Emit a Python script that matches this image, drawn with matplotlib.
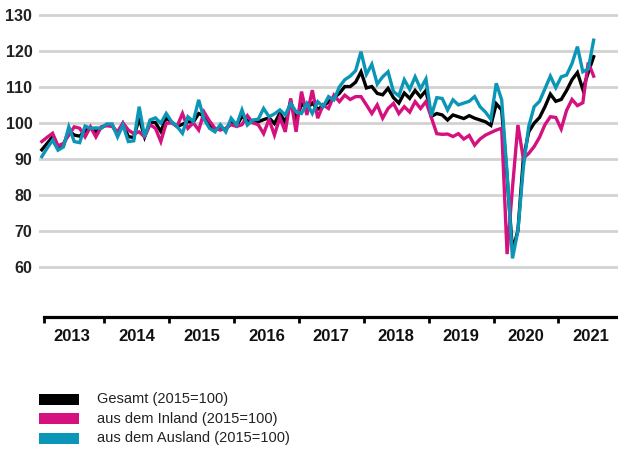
import numpy as np
import matplotlib
matplotlib.use("Agg")
import matplotlib.pyplot as plt
from matplotlib.patches import Rectangle

# monthly index values (2015=100), Jan 2013 - Jul 2021
gesamt = [
    92.5, 94.3, 96.1, 92.9, 93.7, 97.9, 96.6, 96.3, 97.7, 98.7, 97.5, 98.7,
    99.5, 99.4, 96.7, 99.7, 96.2, 95.9, 101.3, 96.1, 100.2, 100.1, 97.6, 101.4,
    100.2, 99.0, 99.6, 100.3, 100.2, 102.6, 101.9, 99.4, 98.0, 98.8, 98.0, 100.5,
    99.2, 101.8, 100.6, 100.4, 100.3, 100.9, 101.4, 99.8, 102.7, 100.1, 106.0, 100.6,
    105.3, 104.0, 105.5, 103.8, 104.7, 105.8, 107.0, 108.2, 110.1, 110.1, 111.3, 114.2,
    109.7, 110.1, 108.2, 107.8, 109.6, 107.0, 105.5, 108.3, 106.8, 109.0, 107.2, 109.0,
    101.8, 102.6, 102.2, 100.8, 102.2, 101.7, 101.2, 102.0, 101.3, 100.8, 100.3, 99.3,
    105.3, 103.6, 85.0, 64.5, 70.0, 90.0, 97.5, 99.9, 101.5, 104.5, 108.0, 106.0,
    106.5, 109.0, 112.0, 114.0, 109.3, 114.0, 118.4,
]
inland = [
    94.8, 96.0, 97.1, 93.6, 94.3, 96.6, 98.9, 98.5, 96.1, 98.9, 96.1, 98.9,
    99.2, 99.0, 97.5, 100.0, 98.0, 97.0, 97.5, 96.1, 99.5, 98.5, 94.8, 99.9,
    100.0, 99.0, 102.6, 98.5, 100.0, 98.0, 103.0, 100.5, 98.5, 98.0, 98.5, 99.5,
    99.0, 99.5, 102.0, 100.0, 99.5, 97.0, 101.0, 96.6, 101.5, 97.5, 106.8, 97.5,
    108.7, 102.2, 109.1, 101.3, 105.0, 104.0, 107.7, 105.9, 107.7, 106.5, 107.3, 107.3,
    105.0, 102.6, 105.0, 101.3, 104.0, 105.4, 102.6, 104.5, 103.0, 105.9, 104.0, 105.9,
    101.5, 97.0, 96.8, 96.9, 96.2, 97.0, 95.5, 96.5, 93.8, 95.5, 96.6, 97.3,
    98.0, 98.5, 63.5, 82.0, 99.4, 90.1, 91.5, 93.4, 96.0, 99.5, 101.7, 101.5,
    98.3, 103.5, 106.5, 104.8, 105.6, 116.8, 113.0,
]
ausland = [
    90.6, 93.0, 95.2, 92.4, 93.3, 98.9, 94.8, 94.5, 99.1, 98.5, 98.6, 98.5,
    99.7, 99.7, 96.1, 99.4, 94.8, 95.0, 104.5, 96.1, 100.8, 101.4, 99.9, 102.6,
    100.3, 99.0, 97.1, 101.7, 100.4, 106.4, 101.0, 98.5, 97.5, 99.5, 97.5, 101.3,
    99.4, 103.6, 99.4, 100.8, 101.0, 104.0, 101.7, 102.5, 103.6, 102.2, 105.4, 103.1,
    102.6, 105.4, 102.6, 105.9, 104.5, 107.3, 106.4, 110.0, 112.0, 113.0, 114.5, 119.8,
    113.5, 116.3, 110.8, 112.8, 114.2, 108.7, 107.5, 112.0, 109.3, 112.8, 109.5, 112.2,
    102.0, 107.0, 106.8, 103.6, 106.4, 105.0, 105.5, 106.0, 107.3, 104.5, 103.0, 101.0,
    111.0, 106.4, 86.0, 62.3, 70.0, 87.5, 99.0, 104.5, 106.0, 109.5, 113.0, 109.8,
    112.8, 113.3, 116.5, 121.2, 114.2, 115.0, 123.0,
]
years = ["2013", "2014", "2015", "2016", "2017", "2018", "2019", "2020", "2021"]
labels = ["Gesamt (2015=100)", "aus dem Inland (2015=100)", "aus dem Ausland (2015=100)"]
colors = ["#000000", "#d4117f", "#0b96b8"]

W, H = 618, 449
fig = plt.figure(figsize=(W / 100, H / 100), dpi=100)

# axes box in pixels: left 39, right 618, top 10, bottom 317
ax = fig.add_axes([39.3 / W, (H - 316.7) / H, (W - 39.3) / W, 306.7 / H])
ax.set_xlim(-0.46, 106.5)
ax.set_ylim(46.09, 131.39)

x = np.arange(len(gesamt))
for series, c in zip([gesamt, inland, ausland], colors):
    ax.plot(x, series, color=c, lw=2.4, solid_joinstyle="miter", zorder=3)

# y axis: bold labels, grey grid, no spine
ax.set_yticks(range(60, 131, 10))
ax.set_yticklabels([str(v) for v in range(60, 131, 10)],
                   fontsize=11.5, fontweight="bold", family="Liberation Sans", color="#222222")
ax.tick_params(axis="y", length=0, pad=5)
ax.yaxis.grid(True, color="#d2d2d2", lw=2.0)
ax.set_axisbelow(True)
for s in ["left", "right", "top"]:
    ax.spines[s].set_visible(False)

# x axis: year boundaries as ticks, year names centred between them
ax.spines["bottom"].set_linewidth(2.3)
ax.spines["bottom"].set_bounds(0.4, 106.5)
bounds = [0.4] + [11.5 + 12 * k for k in range(8)]
ax.set_xticks(bounds)
ax.set_xticklabels([])
ax.tick_params(axis="x", direction="out", length=4, width=2, color="black")
for k, yr in enumerate(years):
    ax.text(5.5 + 12 * k, -0.064, yr, transform=ax.get_xaxis_transform(),
            ha="center", va="center", fontsize=12, fontweight="bold",
            family="Liberation Sans", color="#111111")

# legend boxes and texts
for k, (lab, c) in enumerate(zip(labels, colors)):
    yc = 399.5 + 19.3 * k
    fig.add_artist(Rectangle((39 / W, (H - yc - 5.5) / H), 40 / W, 11 / H,
                             transform=fig.transFigure, color=c, lw=0))
    fig.text(97 / W, (H - yc) / H, lab, ha="left", va="center", fontsize=10.5,
             family="Liberation Sans", color="#222222")

fig.savefig("out.png", dpi=100)
